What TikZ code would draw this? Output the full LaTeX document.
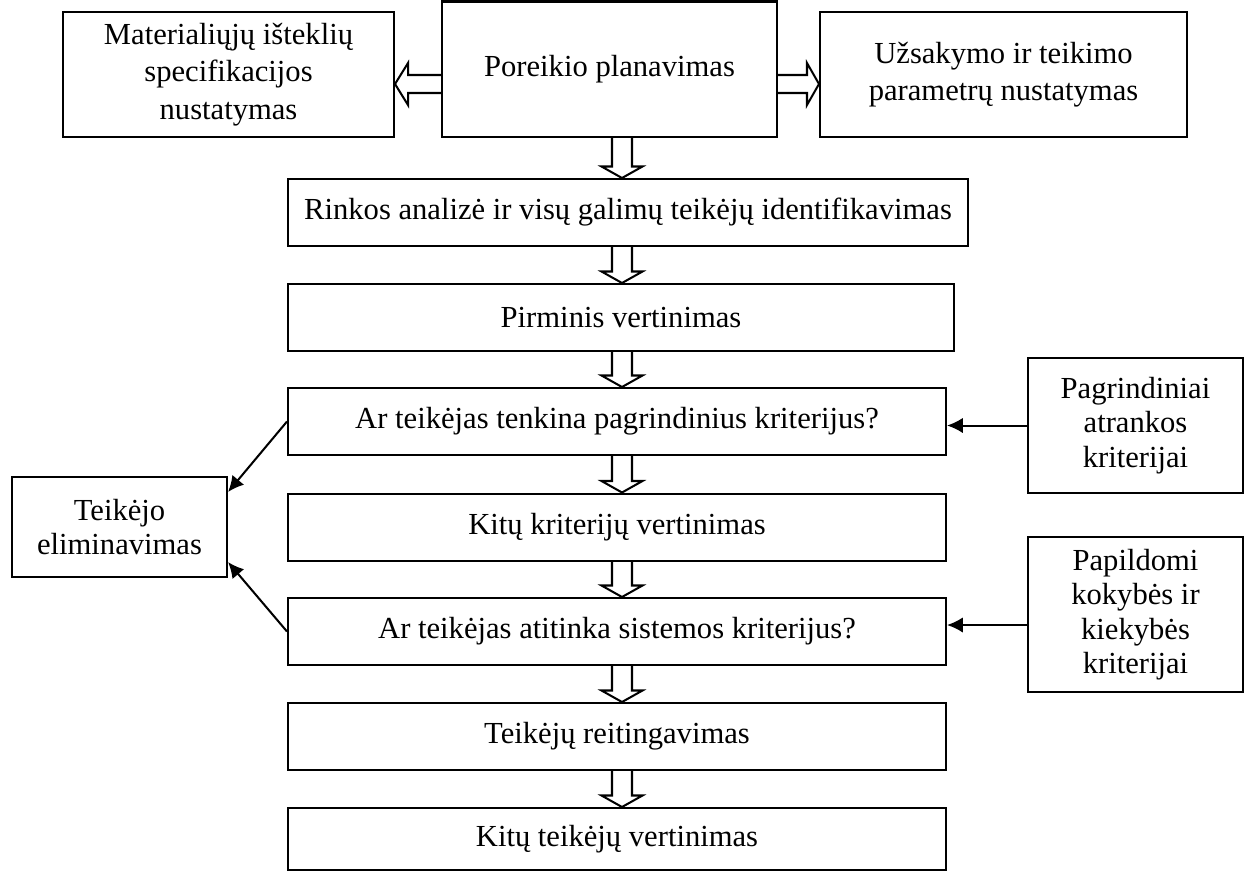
\documentclass[tikz,border=0pt]{standalone}
\usepackage{fontspec}
\setmainfont{Liberation Serif}
\usetikzlibrary{arrows.meta,calc}
\newcommand{\pxu}{0.4444pt}
\tikzset{
  box/.style={draw, line width=0.9pt, align=center, inner sep=2pt,
              font=\fontsize{13.6}{15.3}\selectfont},
  topbox/.style={box, font=\fontsize{13.6}{16.6}\selectfont},
  flow/.style={-{Latex[length=7pt,width=6.8pt]}, line width=0.9pt},
  hollow/.style={line width=0.9pt, line join=miter},
}

\begin{document}
\begin{tikzpicture}[x=\pxu, y=-\pxu]
  \useasboundingbox (0,0) rectangle (1250,872);
  \node[topbox, minimum width=331*\pxu, minimum height=125*\pxu] (mat) at (228.5,74.5)
    {Materialiųjų išteklių\\specifikacijos\\nustatymas};
  \node[topbox, minimum width=335*\pxu, minimum height=135.5*\pxu] (por) at (609.5,69.25)
    {Poreikio planavimas};
  \node[topbox, minimum width=367*\pxu, minimum height=125*\pxu] (uzs) at (1003.5,74.5)
    {Užsakymo ir teikimo\\parametrų nustatymas};
  \node[box, minimum width=680*\pxu, minimum height=67*\pxu] (rink) at (628,212.5)
    {Rinkos analizė ir visų galimų teikėjų identifikavimas};
  \node[box, minimum width=666*\pxu, minimum height=67*\pxu] (pirm) at (621,317.5)
    {Pirminis vertinimas};
  \node[box, minimum width=658*\pxu, minimum height=67*\pxu] (tenk) at (617,421.5)
    {Ar teikėjas tenkina pagrindinius kriterijus?};
  \node[box, minimum width=658*\pxu, minimum height=67*\pxu] (kitk) at (617,527)
    {Kitų kriterijų vertinimas};
  \node[box, minimum width=658*\pxu, minimum height=67*\pxu] (atit) at (617,631.5)
    {Ar teikėjas atitinka sistemos kriterijus?};
  \node[box, minimum width=658*\pxu, minimum height=67*\pxu] (reit) at (617,736.5)
    {Teikėjų reitingavimas};
  \node[box, minimum width=658*\pxu, minimum height=62*\pxu] (kitt) at (617,839)
    {Kitų teikėjų vertinimas};
  \node[box, minimum width=215*\pxu, minimum height=100*\pxu] (elim) at (119.5,527)
    {Teikėjo\\eliminavimas};
  \node[box, minimum width=215*\pxu, minimum height=135*\pxu] (pagr) at (1135.5,425.5)
    {Pagrindiniai\\atrankos\\kriterijai};
  \node[box, minimum width=215*\pxu, minimum height=155*\pxu] (papi) at (1135.5,614.5)
    {Papildomi\\kokybės ir\\kiekybės\\kriterijai};

  \coordinate (axis) at (622,0);
  \coordinate (hmid) at (0,84);
  \coordinate (papiin) at ($(papi.west)+(0,10.5)$);

  \draw[hollow] ($(por.west |- hmid)+(0,-9)$) -- ($(mat.east |- hmid)+(13,-9)$) -- ++(0,-12)
    -- (mat.east |- hmid) -- ++(13,21) -- ++(0,-12) -- ($(por.west |- hmid)+(0,9)$);
  \draw[hollow] ($(por.east |- hmid)+(0,-9)$) -- ($(uzs.west |- hmid)+(-12,-9)$) -- ++(0,-12)
    -- (uzs.west |- hmid) -- ++(-12,21) -- ++(0,-12) -- ($(por.east |- hmid)+(0,9)$);
  \foreach \a/\b in {por/rink, rink/pirm, pirm/tenk, tenk/kitk, kitk/atit, atit/reit, reit/kitt}
    \draw[hollow] ($(\a.south -| axis)+(-10,0)$) -- ($(\b.north -| axis)+(-10,-11.5)$) -- ++(-10.5,0)
      -- (\b.north -| axis) -- ++(20.5,-11.5) -- ++(-10.5,0) -- ($(\a.south -| axis)+(10,0)$);

  \draw[flow] (pagr.west) -- (pagr.west -| tenk.east);
  \draw[flow] (papiin) -- (papiin -| atit.east);
  \draw[flow] (tenk.west) -- ($(elim.east)+(0,-35)$);
  \draw[flow] (atit.west) -- ($(elim.east)+(0,35)$);
\end{tikzpicture}
\end{document}
